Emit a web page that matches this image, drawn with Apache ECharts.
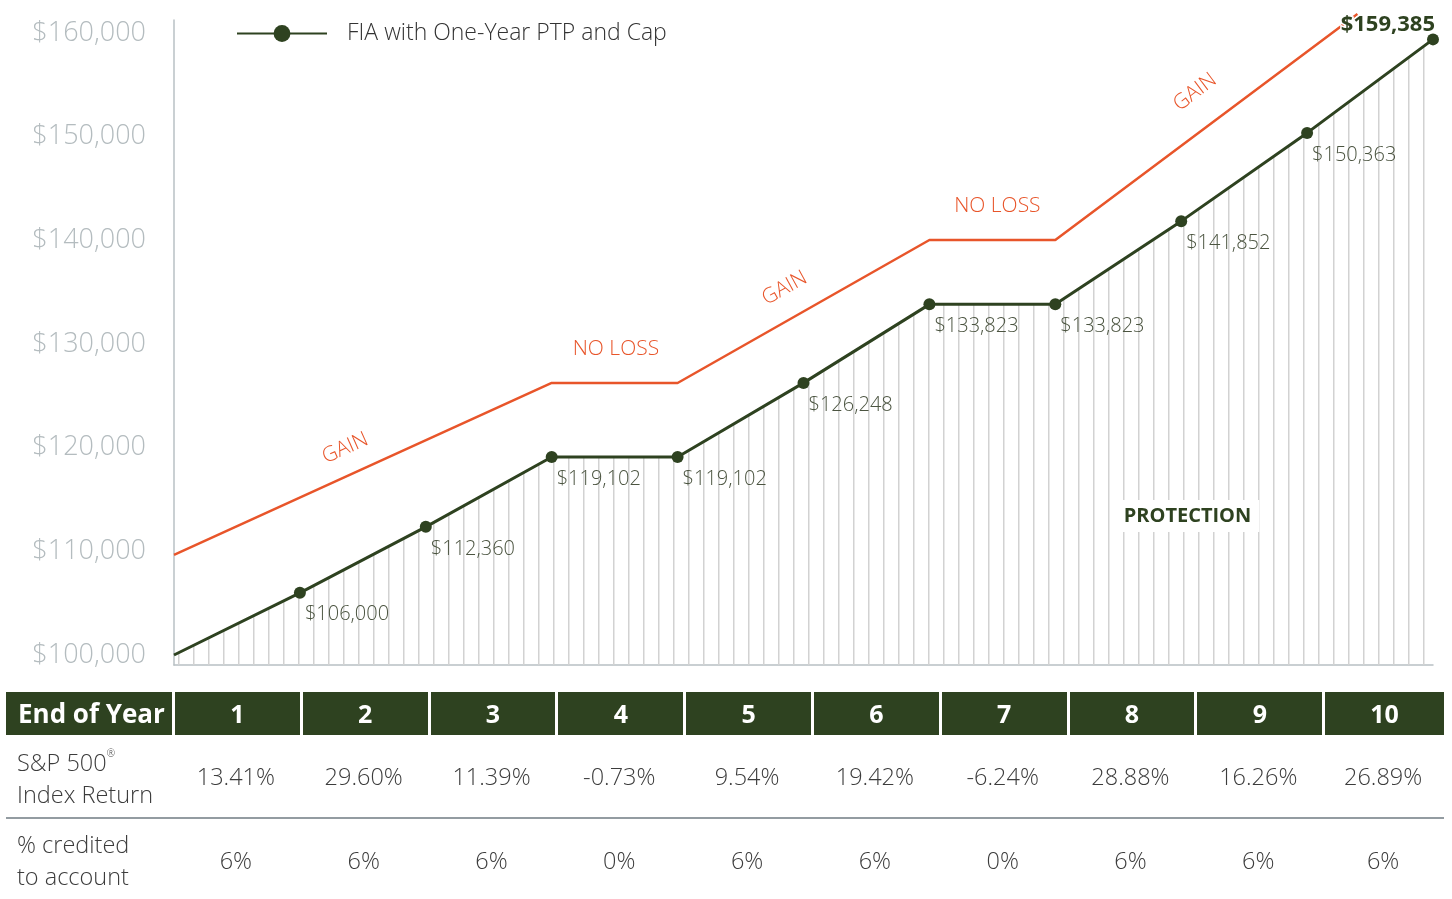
<!DOCTYPE html>
<html>
<head>
<meta charset="utf-8">
<script src="https://cdn.jsdelivr.net/npm/echarts@6/dist/echarts.min.js"></script>
<style>
  html, body { margin: 0; padding: 0; background: #fff; }
  #chart { position: absolute; left: 0; top: 0; width: 1452px; height: 899px; }
  .tbl {
    position: absolute; left: 6px; top: 692px; width: 1438px;
    display: grid;
    grid-template-columns: 166px repeat(9, 127.8px) 1fr;
    font-family: "Open Sans", sans-serif; font-weight: 300; color: #3c3c3c;
  }
  .tbl .hd {
    background: #2e4220; color: #fff; font-weight: 700; font-size: 25px;
    height: 43px; line-height: 43px; text-align: center;
    border-left: 3px solid #fff;
  }
  .tbl .hd.first { border-left: none; text-align: left; padding-left: 12px; font-size: 26px; }
  .tbl .cell { font-size: 23.5px; text-align: center; display: flex; align-items: center; justify-content: center; }
  .tbl .lab { font-size: 23.5px; text-align: left; padding-left: 11px; line-height: 32px; display: flex; flex-direction: column; justify-content: center; }
  .tbl .r1 { height: 82px; border-bottom: 2px solid #939ca1; }
  .tbl .r1.lab { padding-bottom: 6px; height: 76px; }
  .tbl .r2 { height: 81px; }
  .tbl sup { font-size: 10px; vertical-align: 14px; }
</style>
</head>
<body>
<div id="chart"></div>
<div class="tbl" id="tbl"></div>
<script>
// data
const years = [0, 1, 2, 3, 4, 5, 6, 7, 8, 9, 10];
const fiaValues = [100000, 106000, 112360, 119102, 119102, 126248, 133823, 133823, 141852, 150363, 159385];
const capYears = [0, 3, 4, 6, 7, 9.4];
const capValues = [109650, 126240, 126240, 140030, 140030, 161830];
const yTicks = [100000, 110000, 120000, 130000, 140000, 150000, 160000];
const tableYears = ['1', '2', '3', '4', '5', '6', '7', '8', '9', '10'];
const indexReturns = ['13.41%', '29.60%', '11.39%', '-0.73%', '9.54%', '19.42%', '-6.24%', '28.88%', '16.26%', '26.89%'];
const credited = ['6%', '6%', '6%', '0%', '6%', '6%', '0%', '6%', '6%', '6%'];

const GREEN = '#2e4220';
const ORANGE = '#e8552a';
const AXIS = '#b8c0c4';
const FONT = '"Open Sans", sans-serif';

// hatch pattern for the protected area
const hatch = document.createElement('canvas');
hatch.width = 15;
hatch.height = 10;
const hctx = hatch.getContext('2d');
hctx.fillStyle = '#d2d2d2';
hctx.fillRect(13, 0, 1.5, 10);

const money = v => '$' + v.toLocaleString('en-US');

const fiaData = fiaValues.map((v, i) => {
  if (i === 0) return { value: [years[i], v], symbol: 'none', label: { show: false } };
  if (i === fiaValues.length - 1) {
    return {
      value: [years[i], v],
      label: {
        position: [8, -9], align: 'right', verticalAlign: 'middle',
        fontWeight: 700, fontSize: 22, color: GREEN,
        textBorderColor: '#fff', textBorderWidth: 3
      }
    };
  }
  return [years[i], v];
});

const capData = capYears.map((x, i) => [x, capValues[i]]);

const chart = echarts.init(document.getElementById('chart'));
chart.setOption({
  animation: false,
  grid: { left: 174, right: 19, top: 20, bottom: 234 },
  legend: {
    data: ['FIA with One-Year PTP and Cap'],
    left: 231, top: 17,
    itemWidth: 90, itemHeight: 21,
    textStyle: { fontFamily: FONT, fontWeight: 300, fontSize: 23, color: '#333', padding: [0, 0, 0, 15] }
  },
  xAxis: {
    type: 'value', min: 0, max: 10,
    axisLine: { lineStyle: { color: AXIS, width: 1.5 } },
    axisTick: { show: false },
    axisLabel: { show: false },
    splitLine: { show: false }
  },
  yAxis: {
    type: 'value', min: 99035, max: 161254,
    axisLine: { show: true, lineStyle: { color: AXIS, width: 1.5 } },
    axisTick: { show: false },
    splitLine: { show: false },
    axisLabel: {
      customValues: yTicks,
      formatter: v => money(v),
      color: '#b4bcbf', fontFamily: FONT, fontWeight: 300, fontSize: 27, margin: 28
    }
  },
  series: [
    {
      name: 'FIA with One-Year PTP and Cap',
      type: 'line',
      data: fiaData,
      symbol: 'circle',
      symbolSize: 12,
      z: 3,
      lineStyle: { color: GREEN, width: 3 },
      itemStyle: { color: GREEN },
      areaStyle: { color: { image: hatch, repeat: 'repeat' }, opacity: 1, origin: 'start' },
      label: {
        show: true,
        formatter: p => money(p.value[1]),
        position: [11, 28], align: 'left', verticalAlign: 'middle',
        fontFamily: FONT, fontWeight: 300, fontSize: 20, color: '#4b5440'
      },
      markPoint: {
        symbol: 'circle', symbolSize: 1, itemStyle: { color: 'rgba(0,0,0,0)' },
        label: {
          show: true, position: 'inside', formatter: '{b}',
          fontFamily: FONT, fontWeight: 700, fontSize: 20, color: GREEN,
          backgroundColor: '#fff', padding: [6, 8]
        },
        data: [{ name: 'PROTECTION', coord: [8.05, 113400] }]
      }
    },
    {
      name: 'cap',
      type: 'line',
      data: capData,
      showSymbol: false,
      clip: false,
      silent: true,
      z: 2,
      lineStyle: { color: ORANGE, width: 2.5 },
      markPoint: {
        symbol: 'circle', symbolSize: 1, itemStyle: { color: 'rgba(0,0,0,0)' },
        label: {
          show: true, position: 'inside', formatter: '{b}',
          fontFamily: FONT, fontWeight: 300, fontSize: 21, color: ORANGE
        },
        data: [
          { name: 'GAIN', coord: [1.36, 119950], label: { rotate: 24 } },
          { name: 'NO LOSS', coord: [3.51, 129500] },
          { name: 'GAIN', coord: [4.85, 135380], label: { rotate: 29 } },
          { name: 'NO LOSS', coord: [6.54, 143290] },
          { name: 'GAIN', coord: [8.11, 154290], label: { rotate: 37 } }
        ]
      }
    }
  ]
});

// table under the chart
const tbl = document.getElementById('tbl');
let html = '<div class="hd first">End of Year</div>';
tableYears.forEach(y => { html += '<div class="hd">' + y + '</div>'; });
html += '<div class="lab r1"><span>S&amp;P 500<sup>&reg;</sup></span><span>Index Return</span></div>';
indexReturns.forEach(v => { html += '<div class="cell r1">' + v + '</div>'; });
html += '<div class="lab r2"><span>% credited</span><span>to account</span></div>';
credited.forEach(v => { html += '<div class="cell r2">' + v + '</div>'; });
tbl.innerHTML = html;
</script>
</body>
</html>
